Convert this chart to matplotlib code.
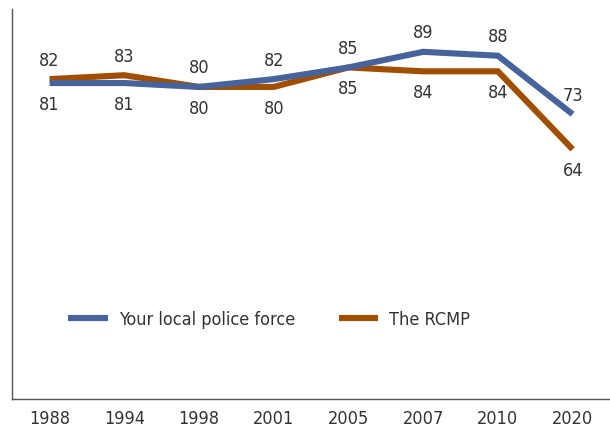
import matplotlib
matplotlib.use("Agg")
import matplotlib.pyplot as plt
import numpy as np

years = ["1988", "1994", "1998", "2001", "2005", "2007", "2010", "2020"]
local_police = [81, 81, 80, 82, 85, 89, 88, 73]
rcmp = [82, 83, 80, 80, 85, 84, 84, 64]
# label above (True) or below (False) the point
local_above = [False, False, True, True, True, True, True, True]
rcmp_above = [True, True, False, False, False, False, False, False]

plt.rcParams["font.family"] = ["DejaVu Sans"]
plt.rcParams["font.stretch"] = "condensed"
text_color = "#333333"
blue = "#46639c"
brown = "#a04f00"
fs = 13

fig = plt.figure(figsize=(6.10, 4.31), dpi=100)
ax = fig.add_axes([0.02, 0.072, 0.98, 0.905])

x = np.arange(len(years))
ax.plot(x, local_police, color=blue, lw=4.4, solid_joinstyle="miter",
        solid_capstyle="butt", label="Your local police force", zorder=3)
ax.plot(x, rcmp, color=brown, lw=4.4, solid_joinstyle="miter",
        solid_capstyle="butt", label="The RCMP", zorder=2)

for vals, flags in [(local_police, local_above), (rcmp, rcmp_above)]:
    for xi, v, up in zip(x, vals, flags):
        ax.annotate(str(v), (xi, v), xytext=(0, 14 if up else -15),
                    textcoords="offset points", ha="center", va="center",
                    fontsize=fs, color=text_color)

ax.set_xlim(-0.5, len(years) - 0.5)
ax.set_ylim(0, 100)
ax.set_xticks(x)
ax.set_xticklabels(years, fontsize=fs, color=text_color)
ax.set_yticks([])
ax.tick_params(axis="x", length=0, pad=7)
for s in ["top", "right"]:
    ax.spines[s].set_visible(False)
for s in ["left", "bottom"]:
    ax.spines[s].set_color("#555555")
    ax.spines[s].set_linewidth(1.0)

leg = ax.legend(loc="center", bbox_to_anchor=(0.43, 0.205), ncol=2, frameon=False,
                fontsize=fs, handlelength=2.2, columnspacing=2.4,
                handletextpad=0.6)
for t in leg.get_texts():
    t.set_color(text_color)

fig.savefig("out.png", dpi=100)
